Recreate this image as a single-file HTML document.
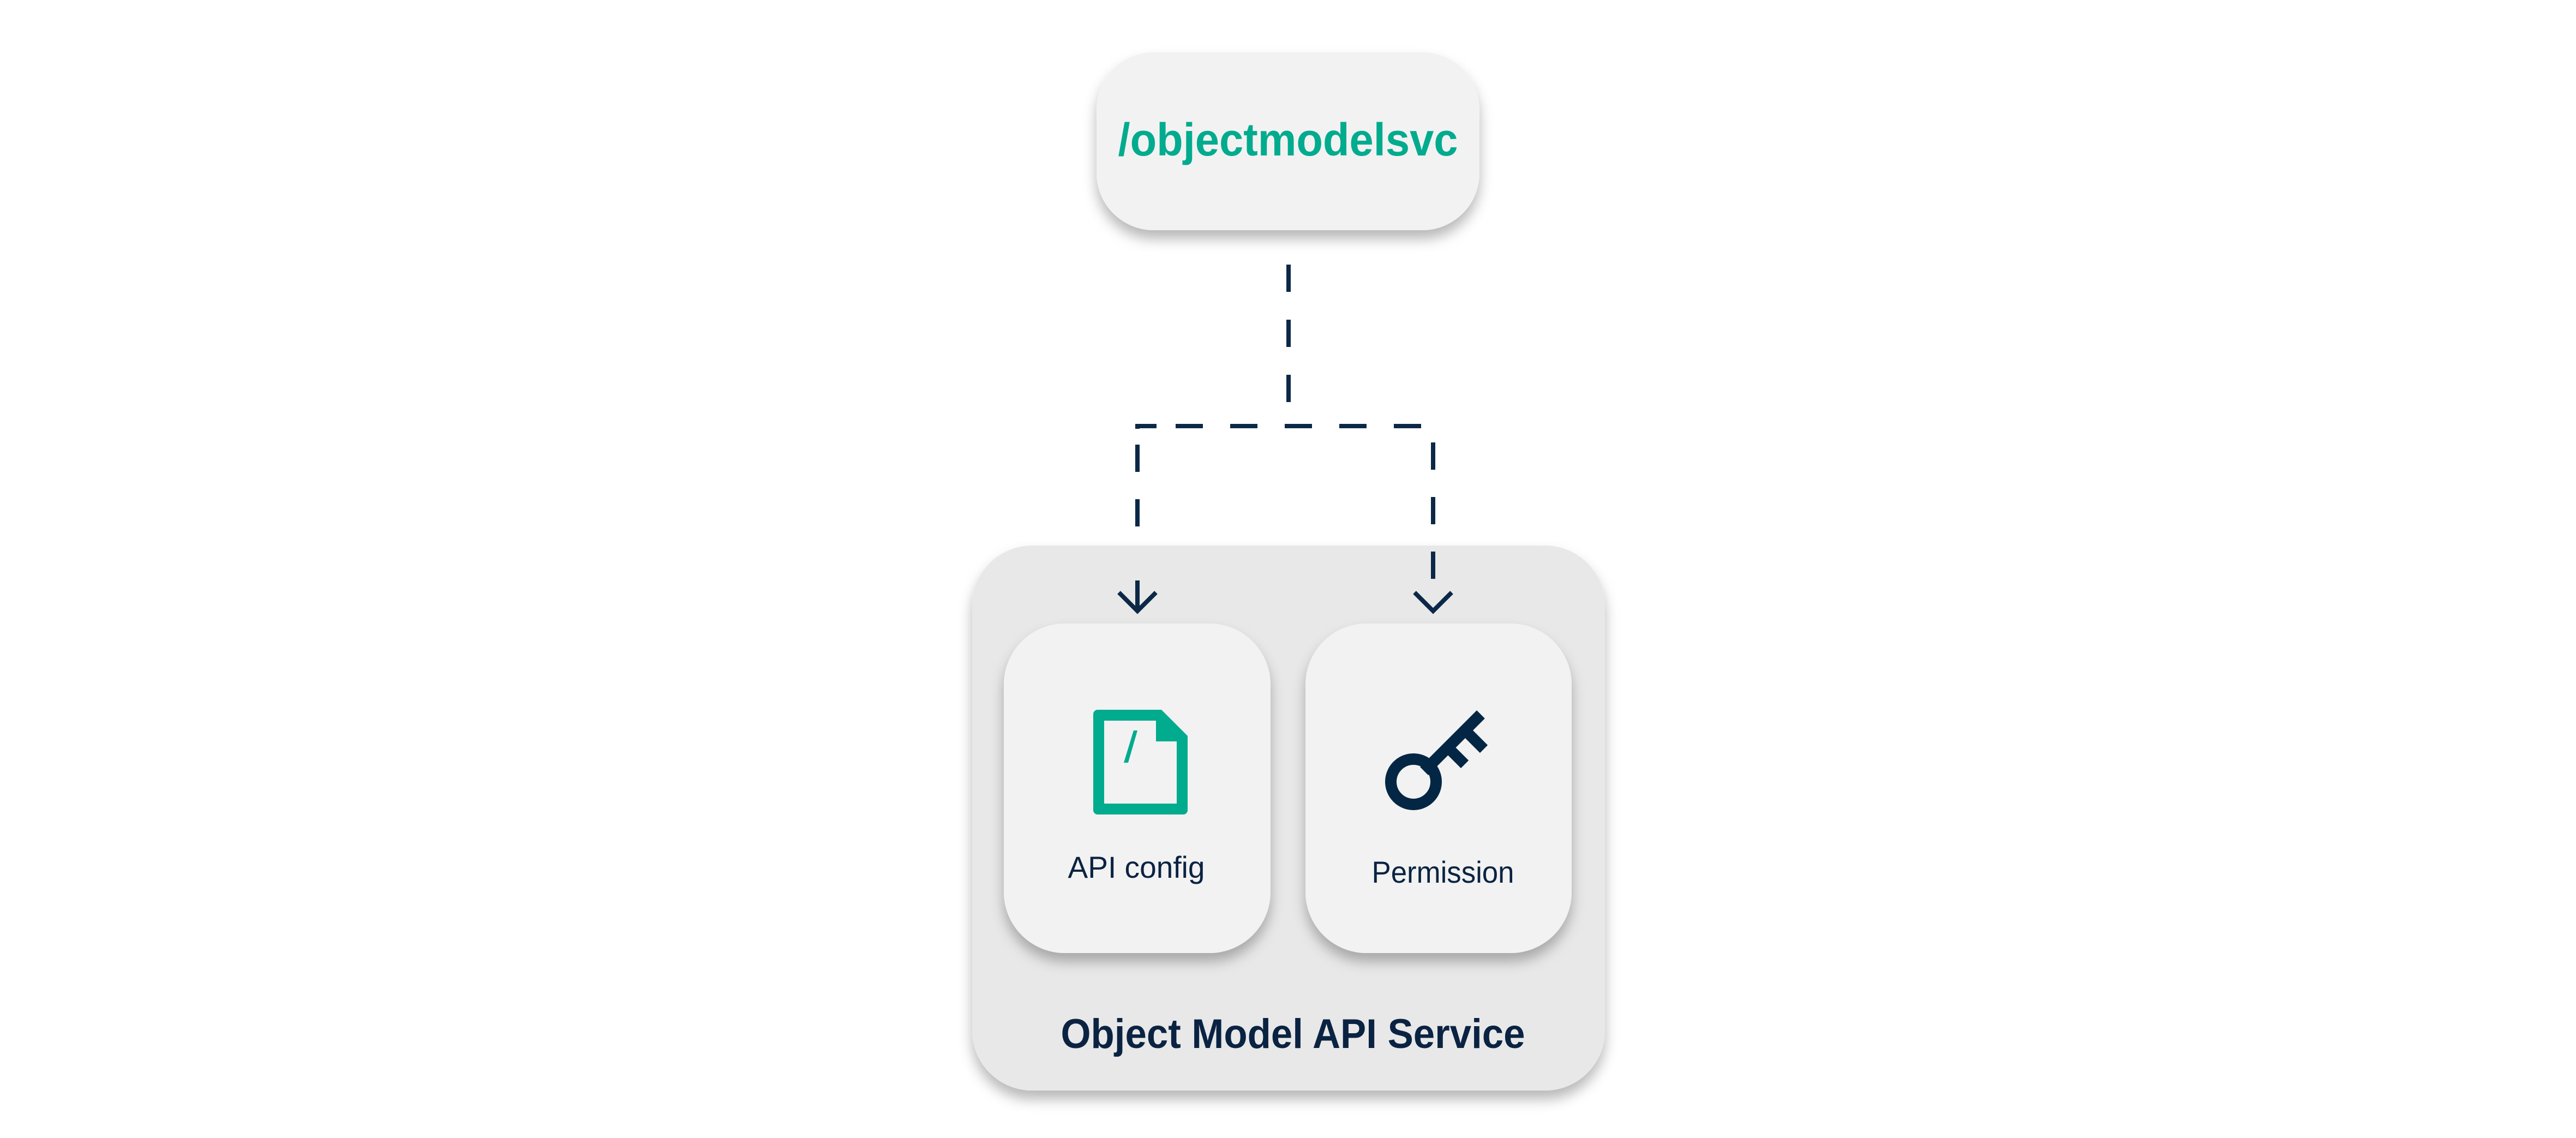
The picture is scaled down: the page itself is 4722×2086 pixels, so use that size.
<!DOCTYPE html>
<html><head><meta charset="utf-8"><style>
html,body{margin:0;padding:0;background:#fff;}
body{width:4722px;height:2086px;overflow:hidden;position:relative;}
</style></head><body>
<svg width="4722" height="2086" viewBox="0 0 4722 2086" xmlns="http://www.w3.org/2000/svg" style="position:absolute;left:0;top:0">
<defs>
<filter id="sh" x="-20%" y="-20%" width="140%" height="150%">
<feDropShadow dx="0" dy="16" stdDeviation="12" flood-color="#000" flood-opacity="0.28"/>
</filter>
</defs>
<!-- top node -->
<rect x="2010" y="96" width="702" height="326" rx="105" fill="#f2f2f2" filter="url(#sh)"/>
<text x="2361" y="285" text-anchor="middle" font-family="Liberation Sans, sans-serif" font-weight="bold" font-size="84" fill="#00ab8e" textLength="623" lengthAdjust="spacingAndGlyphs">/objectmodelsvc</text>
<!-- container -->
<rect x="1782" y="1000" width="1160" height="999" rx="110" fill="#e8e8e8" filter="url(#sh)"/>
<!-- cards -->
<rect x="1840" y="1143" width="489" height="604" rx="112" fill="#f2f2f2" filter="url(#sh)"/>
<rect x="2393" y="1143" width="488" height="604" rx="112" fill="#f2f2f2" filter="url(#sh)"/>
<!-- connectors -->
<g stroke="#0b2847" stroke-width="8" fill="none">
<path d="M2362 485 V781" stroke-dasharray="50 51"/>
<path d="M2085 1012 V781 H2610" stroke-dasharray="0 0"  opacity="0"/>
<path d="M2085 786 V781 H2120" />
<path d="M2155 781 H2605" stroke-dasharray="50 50"/>
<path d="M2085 815 V1012" stroke-dasharray="50 50"/>
<path d="M2627 811 V1062" stroke-dasharray="50 50"/>
<path d="M2085 1064 V1118"/>
<path d="M2051 1086 L2085 1120 L2119 1086"/>
<path d="M2593 1086 L2627 1120 L2661 1086"/>
</g>
<!-- doc icon -->
<path d="M2012 1301 H2129 L2177 1349 V1485 a8 8 0 0 1 -8 8 H2012 a8 8 0 0 1 -8 -8 V1309 a8 8 0 0 1 8 -8 Z M2024 1321 V1473 H2157 V1359 H2119 V1321 Z" fill="#00ab8e" fill-rule="evenodd"/>
<path d="M2078 1339 H2085 L2068 1398 H2060 Z" fill="#00ab8e"/>
<!-- key icon -->
<g stroke="#032645" fill="none">
<circle cx="2591" cy="1433" r="41.5" stroke-width="21"/>
<line x1="2618" y1="1406" x2="2707" y2="1317" stroke-width="21" stroke-linecap="square"/>
<line x1="2658" y1="1374" x2="2685" y2="1401" stroke-width="20"/>
<line x1="2690" y1="1343" x2="2720" y2="1373" stroke-width="20"/>
</g>
<!-- labels -->
<text x="2083" y="1609" text-anchor="middle" font-family="Liberation Sans, sans-serif" font-size="56" fill="#0b2342" textLength="251" lengthAdjust="spacingAndGlyphs">API config</text>
<text x="2645" y="1618" text-anchor="middle" font-family="Liberation Sans, sans-serif" font-size="56" fill="#0b2342" textLength="261" lengthAdjust="spacingAndGlyphs">Permission</text>
<text x="2370" y="1921" text-anchor="middle" font-family="Liberation Sans, sans-serif" font-weight="bold" font-size="76" fill="#0b2342" textLength="851" lengthAdjust="spacingAndGlyphs">Object Model API Service</text>
</svg>
</body></html>
